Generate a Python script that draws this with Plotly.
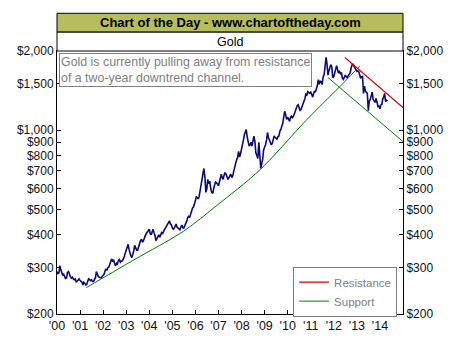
import plotly.graph_objects as go
import pandas as pd
import numpy as np

# Gold price, semi-monthly (1st and 15th of each month), USD/oz
gold_2000 = [290, 285, 287, 305, 295, 286, 280, 283, 277, 273, 274, 288, 290, 282, 277, 274, 276, 272, 270, 272, 265, 266, 268, 272]
gold_2001 = [268, 265, 264, 258, 264, 262, 258, 259, 264, 272, 270, 268, 270, 266, 266, 272, 275, 290, 280, 278, 276, 275, 274, 278]
gold_2002 = [280, 283, 292, 297, 293, 300, 302, 310, 318, 324, 316, 322, 312, 305, 312, 310, 320, 322, 315, 318, 318, 322, 330, 340]
gold_2003 = [350, 360, 368, 352, 340, 333, 328, 335, 348, 365, 358, 350, 350, 360, 368, 380, 385, 375, 380, 392, 398, 405, 410, 415]
gold_2004 = [420, 405, 400, 410, 420, 408, 398, 380, 388, 395, 400, 392, 400, 408, 405, 415, 420, 425, 430, 438, 445, 452, 440, 438]
gold_2005 = [425, 420, 424, 432, 440, 428, 425, 420, 418, 428, 436, 425, 424, 432, 440, 450, 465, 470, 465, 480, 490, 505, 510, 520]
gold_2006 = [540, 560, 555, 548, 560, 585, 610, 640, 680, 715, 660, 580, 600, 650, 625, 640, 600, 580, 575, 600, 620, 635, 630, 625]
gold_2007 = [615, 640, 660, 680, 660, 650, 675, 690, 680, 660, 650, 660, 670, 680, 660, 670, 700, 730, 750, 770, 790, 830, 790, 810]
gold_2008 = [860, 900, 920, 960, 990, 1005, 940, 900, 870, 880, 900, 870, 920, 950, 900, 820, 800, 780, 900, 820, 715, 745, 775, 840]
gold_2009 = [860, 880, 920, 980, 940, 920, 900, 880, 890, 920, 950, 940, 930, 925, 945, 950, 995, 1005, 1040, 1060, 1130, 1180, 1140, 1100]
gold_2010 = [1120, 1100, 1080, 1120, 1130, 1110, 1125, 1150, 1180, 1220, 1240, 1250, 1220, 1190, 1200, 1225, 1250, 1275, 1320, 1370, 1360, 1400, 1390, 1380]
gold_2011 = [1400, 1365, 1335, 1375, 1410, 1395, 1430, 1475, 1555, 1495, 1535, 1530, 1490, 1590, 1625, 1780, 1890, 1790, 1620, 1680, 1720, 1775, 1740, 1585]
gold_2012 = [1600, 1660, 1740, 1760, 1700, 1650, 1670, 1640, 1655, 1580, 1560, 1590, 1620, 1600, 1580, 1610, 1630, 1650, 1720, 1770, 1780, 1745, 1720, 1700]
gold_2013 = [1675, 1680, 1665, 1610, 1575, 1595, 1600, 1380, 1470, 1410, 1395, 1380, 1185, 1290, 1310, 1370, 1395, 1310, 1285, 1275, 1320, 1285, 1230, 1235]
gold_2014 = [1205, 1245, 1255, 1320, 1330, 1380, 1285, 1300, 1290]

# Trend lines (decimal year, price)
resist_years = [2012.48, 2015.0]
resist_prices = [1890, 1218]
support_up_years = [2001.27, 2003.3, 2005.5, 2006.9, 2008.8, 2010.8, 2012.27, 2013.13]
support_up_prices = [252, 320, 414, 515, 707, 1090, 1467, 1755]
support_down_years = [2011.75, 2015.0]
support_down_prices = [1585, 905]

y_ticks = [200, 300, 400, 500, 600, 700, 800, 900, 1000, 1500, 2000]
y_tick_labels = ["$200", "$300", "$400", "$500", "$600", "$700", "$800", "$900", "$1,000", "$1,500", "$2,000"]
x_tick_years = list(range(2000, 2015))
x_tick_labels = ["'%02d" % (y % 100) for y in x_tick_years]

gold = (gold_2000 + gold_2001 + gold_2002 + gold_2003 + gold_2004 + gold_2005 + gold_2006 +
        gold_2007 + gold_2008 + gold_2009 + gold_2010 + gold_2011 + gold_2012 + gold_2013 + gold_2014)
dates = []
for yr in range(2000, 2015):
    for m in range(1, 13):
        for d in (1, 15):
            dates.append(pd.Timestamp(yr, m, d))
dates = dates[:len(gold)]


def dec_to_date(v):
    y = int(v)
    start = pd.Timestamp(y, 1, 1)
    end = pd.Timestamp(y + 1, 1, 1)
    return start + (end - start) * (v - y)


FONT = "Arial, Liberation Sans, sans-serif"

fig = go.Figure()
fig.add_trace(go.Scatter(x=dates, y=gold, mode="lines", line=dict(color="#0B0B78", width=1.6),
                         showlegend=False, hoverinfo="skip"))
fig.add_trace(go.Scatter(x=[dec_to_date(v) for v in resist_years], y=resist_prices, mode="lines",
                         line=dict(color="#E00000", width=1.2), name="Resistance"))
fig.add_trace(go.Scatter(x=[dec_to_date(v) for v in support_up_years], y=support_up_prices, mode="lines",
                         line=dict(color="#008000", width=1, shape="spline"), name="Support",
                         legendgroup="sup"))
fig.add_trace(go.Scatter(x=[dec_to_date(v) for v in support_down_years], y=support_down_prices, mode="lines",
                         line=dict(color="#008000", width=1), name="Support", legendgroup="sup",
                         showlegend=False))
# invisible trace to activate the right-hand axis
fig.add_trace(go.Scatter(x=dates, y=gold, yaxis="y2", mode="lines", line=dict(width=0), opacity=0,
                         showlegend=False, hoverinfo="skip"))

yrange = [np.log10(200), np.log10(2000)]
yax = dict(type="log", range=yrange, tickvals=y_ticks, ticktext=y_tick_labels, ticks="inside",
           ticklen=4, tickcolor="black", showgrid=False, zeroline=False,
           showline=True, linecolor="black", linewidth=1,
           tickfont=dict(family=FONT, size=12, color="#111"))

fig.update_layout(
    width=457, height=345,
    margin=dict(l=57, r=54, t=51, b=29),
    paper_bgcolor="white", plot_bgcolor="white",
    xaxis=dict(type="date", range=["2000-01-01", "2015-01-01"],
               tickvals=[pd.Timestamp(y, 1, 1) for y in x_tick_years], ticktext=x_tick_labels,
               ticks="inside", ticklen=4, tickcolor="black", showgrid=False, zeroline=False,
               showline=True, linecolor="black", linewidth=1, mirror=True,
               tickfont=dict(family=FONT, size=12.5, color="#111")),
    yaxis=dict(**yax, mirror=True, side="left"),
    yaxis2=dict(**yax, overlaying="y", side="right"),
    legend=dict(x=0.983, y=-0.01, xanchor="right", yanchor="bottom", bgcolor="white",
                bordercolor="#808080", borderwidth=1, font=dict(family=FONT, size=11.5, color="#808080"),
                tracegroupgap=0, itemwidth=30),
    shapes=[
        dict(type="rect", xref="paper", yref="paper", x0=0, x1=1, y0=1.0717, y1=1.1434,
             fillcolor="#B5BD5C", line=dict(color="black", width=1)),
        dict(type="rect", xref="paper", yref="paper", x0=0, x1=1, y0=1.0, y1=1.0717,
             fillcolor="white", line=dict(color="black", width=1)),
    ],
    annotations=[
        dict(text="<b>Chart of the Day - www.chartoftheday.com</b>", xref="paper", yref="paper",
             x=0.5, y=1.1075, showarrow=False, font=dict(family=FONT, size=13, color="black"),
             xanchor="center", yanchor="middle"),
        dict(text="Gold", xref="paper", yref="paper", x=0.5, y=1.0358, showarrow=False,
             font=dict(family=FONT, size=12.5, color="black"), xanchor="center", yanchor="middle"),
        dict(text="Gold is currently pulling away from resistance<br>of a two-year downtrend channel.",
             xref="paper", yref="paper", x=0.006, y=0.9925, xanchor="left", yanchor="top",
             align="left", showarrow=False, bgcolor="white", bordercolor="#808080", borderwidth=1,
             borderpad=1, font=dict(family=FONT, size=12.4, color="#7F7F7F")),
    ],
)

fig.write_html("out.html")
